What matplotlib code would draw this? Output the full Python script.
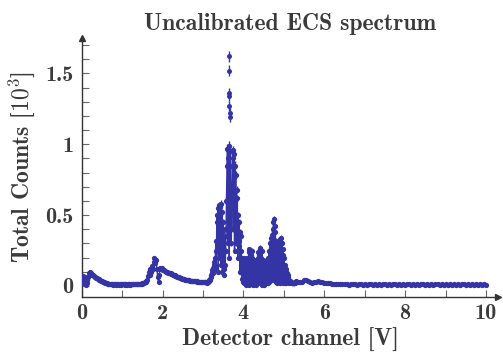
import numpy as np
import matplotlib
matplotlib.use("Agg")
import matplotlib.pyplot as plt
from matplotlib.ticker import MultipleLocator, FuncFormatter

plt.rcParams['font.family'] = ['cmb10', 'DejaVu Serif']
plt.rcParams['mathtext.fontset'] = 'cm'
plt.rcParams['axes.unicode_minus'] = False
plt.rcParams['axes.formatter.use_mathtext'] = True

# spectrum, counts in units of 10^3
# segment 1: 0.00 .. 1.40 V, step 0.02
start_1, step_1 = 0.0, 0.02
counts_1 = [0.05, 0.02, 0.07, 0.03, 0.06, 0.01, 0.04, 0.02, 0.06, 0.09,
            0.10, 0.095, 0.085, 0.08, 0.075, 0.07, 0.065, 0.06, 0.057, 0.053,
            0.05, 0.047, 0.044, 0.04, 0.037, 0.034, 0.03, 0.028, 0.025, 0.022,
            0.02, 0.018, 0.016, 0.015, 0.014, 0.013, 0.012, 0.011, 0.012, 0.010,
            0.011, 0.012, 0.010, 0.011, 0.012, 0.011, 0.010, 0.012, 0.011, 0.010,
            0.011, 0.012, 0.011, 0.010, 0.012, 0.011, 0.010, 0.011, 0.012, 0.011,
            0.010, 0.012, 0.011, 0.012, 0.011, 0.012, 0.011, 0.012, 0.012, 0.013,
            0.012]
# segment 2: 1.42 .. 3.08 V, step 0.02
start_2, step_2 = 1.42, 0.02
counts_2 = [0.013, 0.014, 0.015, 0.016, 0.018, 0.02, 0.022, 0.025, 0.03, 0.035,
            0.045, 0.07, 0.10, 0.08, 0.12, 0.10, 0.14, 0.12, 0.17, 0.20,
            0.16, 0.18, 0.12, 0.06, 0.03, 0.08, 0.13, 0.12, 0.125, 0.115,
            0.11, 0.112, 0.105, 0.10, 0.102, 0.098, 0.095, 0.092, 0.09, 0.088,
            0.085, 0.082, 0.08, 0.077, 0.074, 0.071, 0.068, 0.066, 0.063, 0.06,
            0.058, 0.056, 0.054, 0.052, 0.05, 0.048, 0.047, 0.045, 0.044, 0.042,
            0.041, 0.04, 0.039, 0.038, 0.037, 0.036, 0.035, 0.035, 0.034, 0.033,
            0.032, 0.032, 0.031, 0.03, 0.03, 0.029, 0.028, 0.028, 0.027, 0.027,
            0.026, 0.026, 0.025, 0.025]
# segment 3: 3.10 .. 5.29 V, step 0.01 (peak region)
start_3, step_3 = 3.10, 0.01
counts_3 = [0.025, 0.024, 0.027, 0.03, 0.032, 0.036, 0.04, 0.045, 0.05, 0.06,
            0.07, 0.08, 0.095, 0.11, 0.09, 0.13, 0.15, 0.12, 0.17, 0.20,
            0.15, 0.25, 0.32, 0.12, 0.45, 0.50, 0.25, 0.55, 0.10, 0.57,
            0.48, 0.20, 0.56, 0.42, 0.58, 0.15, 0.38, 0.52, 0.10, 0.40,
            0.45, 0.12, 0.30, 0.08, 0.35, 0.15, 0.25, 0.40, 0.60, 0.85,
            0.97, 0.30, 0.60, 0.90, 0.99, 0.20, 0.50, 0.85, 0.95, 0.40,
            0.30, 0.55, 0.72, 0.90, 0.96, 0.40, 0.60, 0.93, 0.25, 0.85,
            0.60, 0.78, 0.30, 0.68, 0.45, 0.62, 0.20, 0.50, 0.32, 0.45,
            0.28, 0.38, 0.10, 0.35, 0.15, 0.25, 0.05, 0.20, 0.08, 0.15,
            0.03, 0.20, 0.02, 0.16, 0.04, 0.18, 0.01, 0.06, 0.15, 0.02,
            0.20, 0.03, 0.14, 0.24, 0.01, 0.26, 0.16, 0.02, 0.22, 0.12,
            0.25, 0.02, 0.20, 0.15, 0.01, 0.18, 0.03, 0.14, 0.02, 0.12,
            0.16, 0.01, 0.10, 0.14, 0.02, 0.20, 0.12, 0.24, 0.03, 0.22,
            0.27, 0.02, 0.26, 0.08, 0.20, 0.01, 0.25, 0.06, 0.18, 0.02,
            0.14, 0.01, 0.12, 0.16, 0.03, 0.10, 0.15, 0.02, 0.12, 0.18,
            0.02, 0.20, 0.14, 0.25, 0.03, 0.30, 0.20, 0.34, 0.05, 0.30,
            0.36, 0.04, 0.40, 0.30, 0.45, 0.47, 0.06, 0.42, 0.28, 0.38,
            0.03, 0.32, 0.15, 0.26, 0.02, 0.20, 0.28, 0.03, 0.22, 0.30,
            0.02, 0.33, 0.25, 0.34, 0.03, 0.30, 0.12, 0.26, 0.02, 0.22,
            0.12, 0.20, 0.02, 0.15, 0.10, 0.12, 0.02, 0.09, 0.06, 0.08,
            0.05, 0.06, 0.02, 0.045, 0.035, 0.03, 0.032, 0.028, 0.025, 0.024,
            0.022, 0.02, 0.021, 0.019, 0.02, 0.018, 0.019, 0.02, 0.025, 0.03]
# segment 4: 5.30 .. 10.00 V, step 0.05
start_4, step_4 = 5.30, 0.05
counts_4 = [0.035, 0.03, 0.025, 0.03, 0.04, 0.045, 0.035, 0.025, 0.022, 0.03,
            0.028, 0.032, 0.03, 0.025, 0.02, 0.022, 0.018, 0.02, 0.016, 0.015,
            0.014, 0.013, 0.012, 0.013, 0.011, 0.012, 0.010, 0.011, 0.012, 0.011,
            0.010, 0.011, 0.012, 0.010, 0.011, 0.010, 0.011, 0.012, 0.010, 0.011,
            0.010, 0.011, 0.010, 0.012, 0.011, 0.010, 0.011, 0.010, 0.011, 0.012,
            0.010, 0.011, 0.010, 0.011, 0.010, 0.012, 0.011, 0.010, 0.011, 0.010,
            0.011, 0.010, 0.012, 0.011, 0.010, 0.011, 0.010, 0.011, 0.010, 0.011,
            0.012, 0.010, 0.011, 0.010, 0.011, 0.010, 0.011, 0.010, 0.011, 0.010,
            0.011, 0.010, 0.011, 0.012, 0.010, 0.011, 0.010, 0.011, 0.010, 0.011,
            0.010, 0.011, 0.010, 0.011, 0.010]
# isolated high points on top of the main peak
spike_x = [3.64, 3.64, 3.65, 3.65, 3.65, 3.66, 3.66]
spike_counts = [1.62, 1.52, 1.36, 1.34, 1.27, 1.22, 1.19]

segments = [(start_1, step_1, counts_1), (start_2, step_2, counts_2),
            (start_3, step_3, counts_3), (start_4, step_4, counts_4)]
xs, ys = [], []
for s0, ds, vals in segments:
    xs.append(s0 + ds * np.arange(len(vals)))
    ys.append(np.array(vals))
x = np.concatenate(xs)
y = np.concatenate(ys)
# Poisson errors, counts are in 10^3
yerr = np.sqrt(y / 1000.0)
sx = np.array(spike_x)
sy = np.array(spike_counts)
serr = np.sqrt(sy / 1000.0)

col = '#3434a4'
txt = '#3a3a3a'

fig = plt.figure(figsize=(5.03, 3.52), dpi=100)
ax = fig.add_axes([0.1624, 0.1574, 0.828, 0.7347])

ax.plot(x, y, '-', color=col, lw=1.0, zorder=2)
ax.errorbar(x, y, yerr=yerr, fmt='o', color=col, ms=3.8, mew=0,
            elinewidth=1.0, capsize=0, zorder=3)
ax.errorbar(sx, sy, yerr=serr, fmt='o', color=col, ms=3.6, mew=0,
            elinewidth=1.0, capsize=0, zorder=3)

ax.set_xlim(0, 10.3)
ax.set_ylim(-0.075, 1.75)

for side in ['top', 'right']:
    ax.spines[side].set_visible(False)
for side in ['left', 'bottom']:
    ax.spines[side].set_color('#333333')
    ax.spines[side].set_linewidth(1.0)
ax.plot(1, 0, '>', color='#333333', ms=5, transform=ax.transAxes, clip_on=False)
ax.plot(0, 1, '^', color='#333333', ms=5, transform=ax.transAxes, clip_on=False)

ax.xaxis.set_major_locator(MultipleLocator(2))
ax.xaxis.set_minor_locator(MultipleLocator(1))
ax.yaxis.set_major_locator(MultipleLocator(0.5))
ax.yaxis.set_minor_locator(MultipleLocator(0.1))
fmt = FuncFormatter(lambda v, p: f'{v:g}')
ax.xaxis.set_major_formatter(fmt)
ax.yaxis.set_major_formatter(fmt)
ax.tick_params(which='both', direction='in', length=5, width=0.8,
               color='#666666', labelcolor=txt, labelsize=16)
ax.tick_params(axis='x', pad=5)
ax.tick_params(axis='y', pad=6)

ax.set_xlabel('Detector channel [V]', fontsize=17, color=txt, labelpad=4)
ax.set_ylabel(r'Total Counts [$\mathbf{10^3}$]', fontsize=17, color=txt, labelpad=6)
ax.set_title('Uncalibrated ECS spectrum', fontsize=17, color=txt, pad=6)

fig.savefig('out.png', dpi=100)
